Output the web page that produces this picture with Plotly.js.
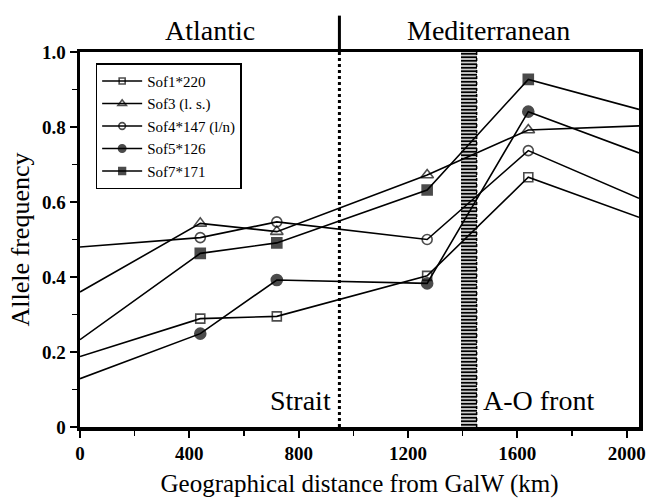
<!DOCTYPE html>
<html>
<head>
<meta charset="utf-8">
<script src="https://cdn.plot.ly/plotly-3.0.1.min.js"></script>
<style>html,body{margin:0;padding:0;background:#fff;}#chart{width:648px;height:504px;}</style>
</head>
<body>
<div id="chart"></div>
<script>
// Distance from GalW (km); first and last entries are the values where the lines meet the frame
const distance = [0, 440, 720, 1270, 1640, 2045];
const sof1_220 = [0.188, 0.289, 0.295, 0.403, 0.666, 0.559];
const sof3_ls  = [0.360, 0.543, 0.521, 0.672, 0.792, 0.803];
const sof4_147 = [0.480, 0.505, 0.547, 0.500, 0.737, 0.610];
const sof5_126 = [0.129, 0.249, 0.392, 0.383, 0.841, 0.731];
const sof7_171 = [0.233, 0.463, 0.491, 0.632, 0.927, 0.847];
const seriesNames = ['Sof1*220', 'Sof3 (l. s.)', 'Sof4*147 (l/n)', 'Sof5*126', 'Sof7*171'];
const straitKm = 949;
const frontKm = [1393, 1451];
const xTicks = [0, 400, 800, 1200, 1600, 2000];
const yTicks = [0, 0.2, 0.4, 0.6, 0.8, 1.0];
const yTickText = ['0', '0.2', '0.4', '0.6', '0.8', '1.0'];

const serif = 'Liberation Serif, Times New Roman, serif';
const xMax = 2045;
const series = [sof1_220, sof3_ls, sof4_147, sof5_126, sof7_171];
const symbols = ['square-open', 'triangle-up-open', 'circle-open', 'circle', 'square'];
const sizes = [9, 11, 10, 11, 10];

const traces = [];
// A-O front hatched band
traces.push({
  type: 'bar', x: [(frontKm[0] + frontKm[1]) / 2], y: [1], width: [frontKm[1] - frontKm[0]],
  marker: {color: 'white', line: {width: 0},
    pattern: {shape: '-', size: 3.5, solidity: 0.6, fgcolor: 'black', bgcolor: 'white', fillmode: 'replace'}},
  showlegend: false, hoverinfo: 'skip'
});
series.forEach((vals, i) => {
  traces.push({
    type: 'scatter', mode: 'lines+markers', name: seriesNames[i],
    x: distance, y: vals,
    line: {color: 'black', width: 1.6},
    marker: {symbol: symbols[i], color: 'black',
      size: distance.map(d => (d > 0 && d < xMax) ? sizes[i] : 0),
      line: {color: 'black', width: 1.6}}
  });
});

const layout = {
  width: 648, height: 504,
  margin: {l: 80, r: 9, t: 52, b: 77},
  paper_bgcolor: 'white', plot_bgcolor: 'white',
  showlegend: true,
  bargap: 0,
  font: {family: serif, color: 'black'},
  xaxis: {
    range: [0, xMax], tickvals: xTicks, ticktext: xTicks.map(String),
    showline: true, linewidth: 3.5, linecolor: 'black', mirror: true,
    ticks: 'outside', ticklen: 7, tickwidth: 2, tickcolor: 'black',
    minor: {dtick: 200, tick0: 0, ticks: 'outside', ticklen: 5, tickwidth: 1.5, tickcolor: 'black'},
    showgrid: false, zeroline: false,
    tickfont: {family: serif, size: 19, weight: 'bold', color: 'black'},
    title: {text: 'Geographical distance from GalW (km)', font: {family: serif, size: 25, color: 'black'}, standoff: 12}
  },
  yaxis: {
    range: [0, 1], tickvals: yTicks, ticktext: yTickText,
    showline: true, linewidth: 3.5, linecolor: 'black', mirror: true,
    ticks: 'outside', ticklen: 7, tickwidth: 2, tickcolor: 'black',
    minor: {dtick: 0.1, tick0: 0, ticks: 'outside', ticklen: 5, tickwidth: 1.5, tickcolor: 'black'},
    showgrid: false, zeroline: false,
    tickfont: {family: serif, size: 19, weight: 'bold', color: 'black'},
    title: {text: 'Allele frequency', font: {family: serif, size: 26, color: 'black'}, standoff: 6}
  },
  legend: {
    x: 0.028, y: 0.97, xanchor: 'left', yanchor: 'top',
    bgcolor: 'white', bordercolor: 'black', borderwidth: 1.5,
    font: {family: serif, size: 15, color: 'black'},
    itemwidth: 40, tracegroupgap: 0
  },
  shapes: [
    {type: 'line', xref: 'x', yref: 'paper', x0: straitKm, x1: straitKm, y0: 0, y1: 1,
      line: {color: 'black', width: 3, dash: 'dot'}},
    {type: 'line', xref: 'x', yref: 'paper', x0: straitKm, x1: straitKm, y0: 1, y1: 1.097,
      line: {color: 'black', width: 3}},
    {type: 'line', xref: 'x', yref: 'paper', x0: frontKm[1], x1: frontKm[1], y0: 0, y1: 1,
      line: {color: 'black', width: 1.5, dash: 'dot'}}
  ],
  annotations: [
    {text: 'Atlantic', xref: 'paper', yref: 'paper', x: (210 - 80) / 559, y: 1.057, xanchor: 'center', yanchor: 'middle',
      showarrow: false, font: {family: serif, size: 28, color: 'black'}},
    {text: 'Mediterranean', xref: 'paper', yref: 'paper', x: (488 - 80) / 559, y: 1.057, xanchor: 'center', yanchor: 'middle',
      showarrow: false, font: {family: serif, size: 28, color: 'black'}},
    {text: 'Strait', xref: 'x', yref: 'paper', x: straitKm - 25, y: 0.07, xanchor: 'right', yanchor: 'middle',
      showarrow: false, font: {family: serif, size: 28, color: 'black'}},
    {text: 'A-O front', xref: 'x', yref: 'paper', x: frontKm[1] + 15, y: 0.07, xanchor: 'left', yanchor: 'middle',
      showarrow: false, font: {family: serif, size: 28, color: 'black'}}
  ]
};

Plotly.newPlot('chart', traces, layout, {displayModeBar: false, staticPlot: true});
</script>
</body>
</html>
